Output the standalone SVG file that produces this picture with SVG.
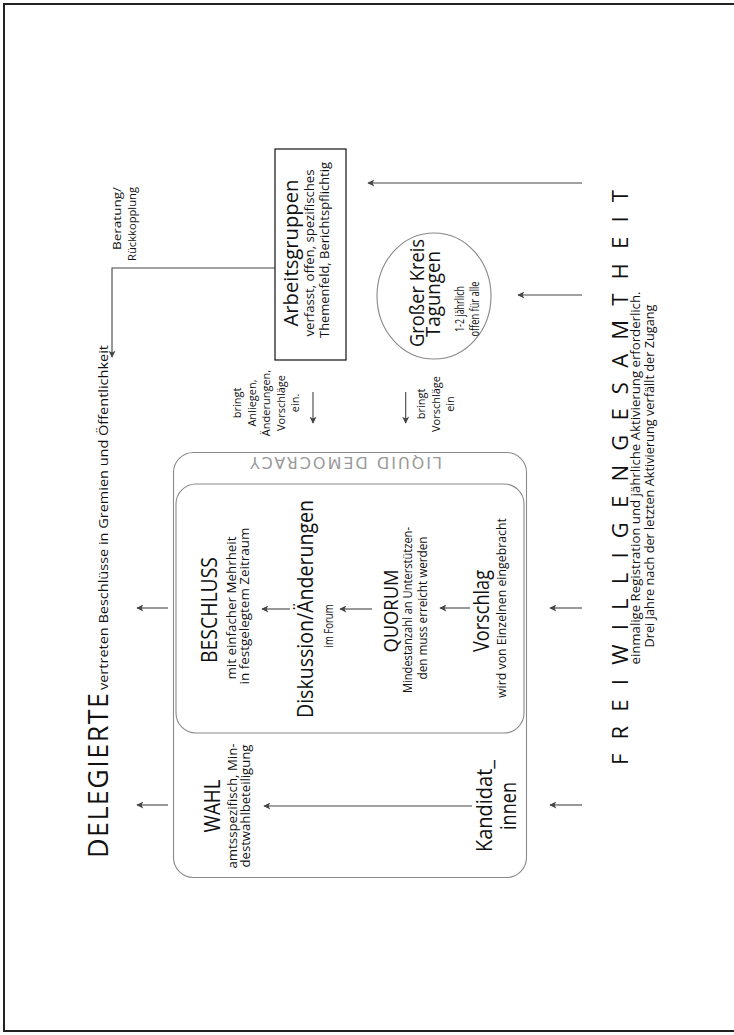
<svg xmlns="http://www.w3.org/2000/svg" width="734" height="1035" viewBox="0 0 734 1035">
<defs>
<style>
text{font-family:"Open Sans","Liberation Sans",sans-serif;fill:#111;}
.big{font-size:21px;}
.mid{font-size:20px;}
.sm{font-size:12px;}
.xs{font-size:11px;}
.title{font-weight:400;}
.conn line,.conn polyline{stroke:#444;stroke-width:1.1;fill:none;marker-end:url(#ah);}
.rr{fill:none;stroke:#8a8a8a;stroke-width:1.1;}
</style>
<marker id="ah" viewBox="0 0 10 10" refX="9" refY="5" markerUnits="userSpaceOnUse" markerWidth="8" markerHeight="7" orient="auto">
<path d="M0,0 L10,5 L0,10 L2.5,5 z" fill="#444"/>
</marker>
</defs>
<rect x="4" y="4" width="740" height="1027" fill="#fff" stroke="#222" stroke-width="2"/>

<g id="liquid">
<rect class="rr" x="173.5" y="452.5" width="353" height="425" rx="20"/>
<rect class="rr" x="176" y="484" width="348" height="249" rx="20"/>
<text transform="translate(346,457) rotate(180)" text-anchor="middle" style="font-family:'DejaVu Sans','Liberation Sans',sans-serif;font-size:16px;fill:#9a9a9a" textLength="192">LIQUID DEMOCRACY</text>
</g>

<g id="delegierte">
<text class="title" transform="translate(108,858) rotate(-90)" style="font-size:27px" textLength="165">DELEGIERTE</text>
<text class="sm" transform="translate(108,690) rotate(-90)" style="font-size:12.5px" textLength="345" lengthAdjust="spacingAndGlyphs">vertreten Beschlüsse in Gremien und Öffentlichkeit</text>
</g>

<g id="beratung">
<text transform="translate(121,187) rotate(-90)" text-anchor="end" style="font-size:11px" textLength="63" lengthAdjust="spacingAndGlyphs">Beratung/</text>
<text transform="translate(135.5,187) rotate(-90)" text-anchor="end" style="font-size:11px" textLength="74" lengthAdjust="spacingAndGlyphs">Rückkopplung</text>
</g>

<g id="arbeitsgruppen">
<rect x="275" y="149" width="71" height="211" fill="#fff" stroke="#111" stroke-width="1.2"/>
<text class="mid" transform="translate(298,253) rotate(-90)" text-anchor="middle" textLength="147" lengthAdjust="spacingAndGlyphs">Arbeitsgruppen</text>
<text class="sm" transform="translate(314,253) rotate(-90)" text-anchor="middle" textLength="167" lengthAdjust="spacingAndGlyphs">verfasst, offen, spezifisches</text>
<text class="sm" transform="translate(329,250) rotate(-90)" text-anchor="middle" textLength="176" lengthAdjust="spacingAndGlyphs">Themenfeld, Berichtspflichtig</text>
</g>

<g id="grosserkreis">
<ellipse cx="434" cy="296" rx="57" ry="63" fill="#fff" stroke="#888" stroke-width="1.1"/>
<text transform="translate(424,293) rotate(-90)" text-anchor="middle" style="font-size:19.5px" textLength="108" lengthAdjust="spacingAndGlyphs">Großer Kreis</text>
<text transform="translate(440,294) rotate(-90)" text-anchor="middle" style="font-size:19.5px" textLength="86" lengthAdjust="spacingAndGlyphs">Tagungen</text>
<text transform="translate(464,309) rotate(-90)" text-anchor="middle" style="font-size:12.5px" textLength="46" lengthAdjust="spacingAndGlyphs">1-2 jährlich</text>
<text transform="translate(478.5,309) rotate(-90)" text-anchor="middle" style="font-size:12.5px" textLength="55" lengthAdjust="spacingAndGlyphs">offen für alle</text>
</g>

<g id="bringt1">
<text class="xs" transform="translate(241,403) rotate(-90)" text-anchor="middle">bringt</text>
<text class="xs" transform="translate(255.5,403) rotate(-90)" text-anchor="middle">Anliegen,</text>
<text class="xs" transform="translate(270,403) rotate(-90)" text-anchor="middle">Änderungen,</text>
<text class="xs" transform="translate(284.5,403) rotate(-90)" text-anchor="middle">Vorschläge</text>
<text class="xs" transform="translate(299,403) rotate(-90)" text-anchor="middle">ein.</text>
</g>

<g id="bringt2">
<text class="xs" transform="translate(425,404) rotate(-90)" text-anchor="middle">bringt</text>
<text class="xs" transform="translate(439.5,404) rotate(-90)" text-anchor="middle">Vorschläge</text>
<text class="xs" transform="translate(454,404) rotate(-90)" text-anchor="middle">ein</text>
</g>

<g id="beschluss">
<text class="big" transform="translate(217,610) rotate(-90)" text-anchor="middle" textLength="106" lengthAdjust="spacingAndGlyphs">BESCHLUSS</text>
<text class="sm" transform="translate(236,608) rotate(-90)" text-anchor="middle" textLength="143" lengthAdjust="spacingAndGlyphs">mit einfacher Mehrheit</text>
<text class="sm" transform="translate(249,606) rotate(-90)" text-anchor="middle" textLength="157" lengthAdjust="spacingAndGlyphs">in festgelegtem Zeitraum</text>
</g>

<g id="diskussion">
<text class="big" transform="translate(313,609) rotate(-90)" text-anchor="middle" textLength="218" lengthAdjust="spacingAndGlyphs">Diskussion/Änderungen</text>
<text transform="translate(332.5,626) rotate(-90)" text-anchor="middle" style="font-size:13px" textLength="43" lengthAdjust="spacingAndGlyphs">im Forum</text>
</g>

<g id="quorum">
<text class="mid" transform="translate(398,611) rotate(-90)" text-anchor="middle" textLength="83" lengthAdjust="spacingAndGlyphs">QUORUM</text>
<text class="sm" transform="translate(412,610) rotate(-90)" text-anchor="middle" textLength="166" lengthAdjust="spacingAndGlyphs">Mindestanzahl an Unterstützen-</text>
<text class="sm" transform="translate(427,608) rotate(-90)" text-anchor="middle" textLength="143" lengthAdjust="spacingAndGlyphs">den muss erreicht werden</text>
</g>

<g id="vorschlag">
<text class="big" transform="translate(489,611) rotate(-90)" text-anchor="middle" textLength="82" lengthAdjust="spacingAndGlyphs">Vorschlag</text>
<text class="sm" transform="translate(506,608) rotate(-90)" text-anchor="middle" textLength="180" lengthAdjust="spacingAndGlyphs">wird von Einzelnen eingebracht</text>
</g>

<g id="wahl">
<text class="big" transform="translate(220,806) rotate(-90)" text-anchor="middle" textLength="53" lengthAdjust="spacingAndGlyphs">WAHL</text>
<text class="sm" transform="translate(237,806) rotate(-90)" text-anchor="middle" textLength="125" lengthAdjust="spacingAndGlyphs">amtsspezifisch, Min-</text>
<text class="sm" transform="translate(250,806) rotate(-90)" text-anchor="middle" textLength="123" lengthAdjust="spacingAndGlyphs">destwahlbeteiligung</text>
</g>

<g id="kandidat">
<text class="big" transform="translate(492,806) rotate(-90)" text-anchor="middle" textLength="92" lengthAdjust="spacingAndGlyphs">Kandidat_</text>
<text class="big" transform="translate(516,806) rotate(-90)" text-anchor="middle" textLength="48" lengthAdjust="spacingAndGlyphs">innen</text>
</g>

<g id="freiwillige">
<text class="title" transform="translate(628,765) rotate(-90)" style="font-size:22px" textLength="575">FREIWILLIGENGESAMTHEIT</text>
<text class="sm" transform="translate(640,478) rotate(-90)" text-anchor="middle" textLength="373" lengthAdjust="spacingAndGlyphs">einmalige Registration und jährliche Aktivierung erforderlich.</text>
<text class="sm" transform="translate(654,476) rotate(-90)" text-anchor="middle" textLength="343" lengthAdjust="spacingAndGlyphs">Drei Jahre nach der letzten Aktivierung verfällt der Zugang</text>
</g>

<g id="connectors" class="conn">
<polyline points="275,268 112,268 112,357"/>
<line x1="582" y1="183" x2="368" y2="183"/>
<line x1="582" y1="295" x2="518" y2="295"/>
<line x1="582" y1="608" x2="550" y2="608"/>
<line x1="582" y1="805" x2="550" y2="805"/>
<line x1="313" y1="392" x2="313" y2="423"/>
<line x1="405.7" y1="392" x2="405.7" y2="423"/>
<line x1="290" y1="609" x2="262" y2="609"/>
<line x1="372" y1="609" x2="340" y2="609"/>
<line x1="470" y1="608" x2="440" y2="608"/>
<line x1="472" y1="806" x2="264" y2="806"/>
<line x1="168" y1="608" x2="137" y2="608"/>
<line x1="168" y1="805" x2="137" y2="805"/>
</g>
</svg>
